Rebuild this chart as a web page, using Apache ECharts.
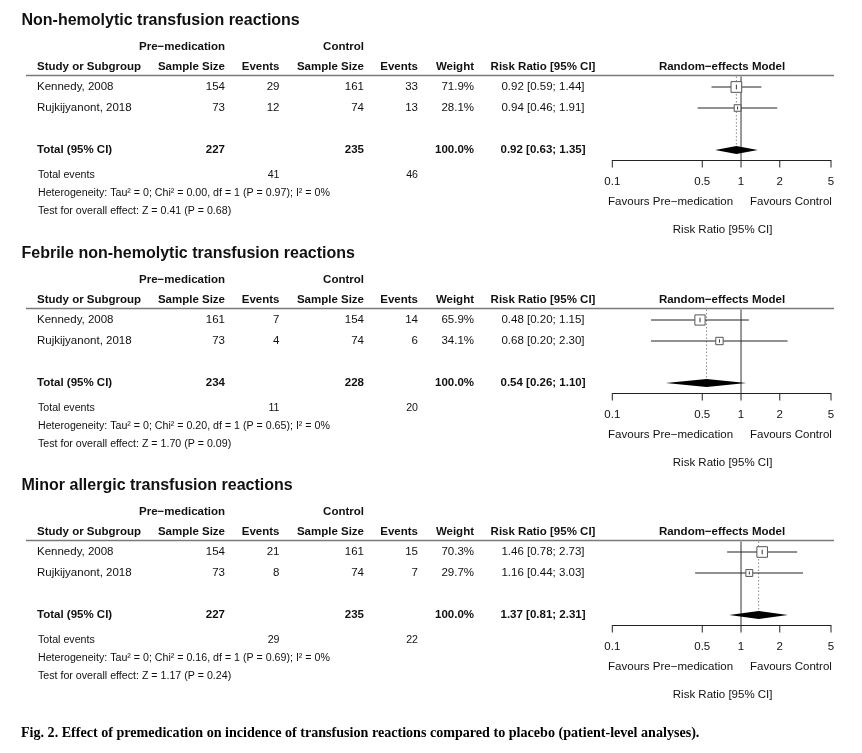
<!DOCTYPE html>
<html>
<head>
<meta charset="utf-8">
<script src="https://cdn.jsdelivr.net/npm/echarts@6/dist/echarts.min.js"></script>
<style>
html,body{margin:0;padding:0;background:#fff;}
#c{width:862px;height:753px;}
</style>
</head>
<body>
<div id="c"></div>
<script>
// ---------------- DATA ----------------
const panelTitles = [
  'Non-hemolytic transfusion reactions',
  'Febrile non-hemolytic transfusion reactions',
  'Minor allergic transfusion reactions'
];
const studies = ['Kennedy, 2008', 'Rujkijyanont, 2018'];
const preSize   = [[154, 73], [161, 73], [154, 73]];
const preEvents = [[29, 12], [7, 4], [21, 8]];
const ctlSize   = [[161, 74], [154, 74], [161, 74]];
const ctlEvents = [[33, 13], [14, 6], [15, 7]];
const weights   = [[71.9, 28.1], [65.9, 34.1], [70.3, 29.7]];
const rr        = [[0.92, 0.94], [0.48, 0.68], [1.46, 1.16]];
const rrLo      = [[0.59, 0.46], [0.20, 0.20], [0.78, 0.44]];
const rrHi      = [[1.44, 1.91], [1.15, 2.30], [2.73, 3.03]];
const totalPre  = [227, 234, 227];
const totalCtl  = [235, 228, 235];
const totalEvPre = [41, 11, 29];
const totalEvCtl = [46, 20, 22];
const pooled    = [0.92, 0.54, 1.37];
const pooledLo  = [0.63, 0.26, 0.81];
const pooledHi  = [1.35, 1.10, 2.31];
const heterogeneity = [
  'Heterogeneity: Tau² = 0; Chi² = 0.00, df = 1 (P = 0.97); I² = 0%',
  'Heterogeneity: Tau² = 0; Chi² = 0.20, df = 1 (P = 0.65); I² = 0%',
  'Heterogeneity: Tau² = 0; Chi² = 0.16, df = 1 (P = 0.69); I² = 0%'
];
const overallEffect = [
  'Test for overall effect: Z = 0.41 (P = 0.68)',
  'Test for overall effect: Z = 1.70 (P = 0.09)',
  'Test for overall effect: Z = 1.17 (P = 0.24)'
];
const tickValues = [0.1, 0.5, 1, 2, 5];
const caption = 'Fig. 2. Effect of premedication on incidence of transfusion reactions compared to placebo (patient-level analyses).';

// ---------------- LAYOUT / STYLE ----------------
const SANS = '"Liberation Sans", Arial, Helvetica, sans-serif';
const SERIF = '"Liberation Serif", "Times New Roman", serif';
const TEXT = '#111';
const PANEL_Y = [0, 233, 465];
const ROW = { title: 21, group: 47, head: 67, line: 75.5, total: 150, tev: 175, het: 193, test: 211.5 };
const STUDY_ROW_Y = [87, 108];
const COL = { study: 37, preSize: 225, preEv: 279.5, ctlSize: 364, ctlEv: 418, weight: 474, rr: 543, model: 722 };
const FS = 11.5, FS_SMALL = 10.65;
const Y_MIN = 0.5, Y_MAX = 4.5, TOTAL_ROW = 4;
const REF_VALUE = 1;
const SQUARE_SCALE = 1.26;
const DIAMOND_HALF = 4;
const GRID_LEFT = 612.3, GRID_WIDTH = 218.7, GRID_TOP = 76.5, GRID_HEIGHT = 84;

function font(size, bold) { return (bold ? 'bold ' : '') + size + 'px ' + SANS; }
function txt(x, y, text, opt) {
  opt = opt || {};
  const align = opt.align || 'left';
  return {
    type: 'text', x: x, y: y, silent: true,
    style: {
      text: text,
      font: opt.font || font(opt.size || FS, opt.bold),
      fill: opt.color || TEXT,
      align: align, textAlign: align,
      verticalAlign: 'middle', textVerticalAlign: 'middle'
    }
  };
}
function fmtRR(v, lo, hi) { return v.toFixed(2) + ' [' + lo.toFixed(2) + '; ' + hi.toFixed(2) + ']'; }

// ---------------- TABLE TEXT ----------------
const graphics = [];
for (let p = 0; p < 3; p++) {
  const o = PANEL_Y[p];
  graphics.push(txt(21.5, o + ROW.title, panelTitles[p], { size: 16, bold: true }));
  graphics.push(txt(COL.preSize, o + ROW.group, 'Pre\u2212medication', { bold: true, align: 'right' }));
  graphics.push(txt(COL.ctlSize, o + ROW.group, 'Control', { bold: true, align: 'right' }));
  const hy = o + ROW.head;
  graphics.push(txt(COL.study, hy, 'Study or Subgroup', { bold: true }));
  graphics.push(txt(COL.preSize, hy, 'Sample Size', { bold: true, align: 'right' }));
  graphics.push(txt(COL.preEv, hy, 'Events', { bold: true, align: 'right' }));
  graphics.push(txt(COL.ctlSize, hy, 'Sample Size', { bold: true, align: 'right' }));
  graphics.push(txt(COL.ctlEv, hy, 'Events', { bold: true, align: 'right' }));
  graphics.push(txt(COL.weight, hy, 'Weight', { bold: true, align: 'right' }));
  graphics.push(txt(COL.rr, hy, 'Risk Ratio [95% CI]', { bold: true, align: 'center' }));
  graphics.push(txt(COL.model, hy, 'Random\u2212effects Model', { bold: true, align: 'center' }));
  graphics.push({
    type: 'line', silent: true,
    shape: { x1: 26, y1: o + ROW.line, x2: 834, y2: o + ROW.line },
    style: { stroke: '#7a7a7a', lineWidth: 1.5 }
  });
  for (let i = 0; i < studies.length; i++) {
    const y = o + STUDY_ROW_Y[i];
    graphics.push(txt(COL.study, y, studies[i]));
    graphics.push(txt(COL.preSize, y, String(preSize[p][i]), { align: 'right' }));
    graphics.push(txt(COL.preEv, y, String(preEvents[p][i]), { align: 'right' }));
    graphics.push(txt(COL.ctlSize, y, String(ctlSize[p][i]), { align: 'right' }));
    graphics.push(txt(COL.ctlEv, y, String(ctlEvents[p][i]), { align: 'right' }));
    graphics.push(txt(COL.weight, y, weights[p][i].toFixed(1) + '%', { align: 'right' }));
    graphics.push(txt(COL.rr, y, fmtRR(rr[p][i], rrLo[p][i], rrHi[p][i]), { align: 'center' }));
  }
  const ty = o + ROW.total;
  graphics.push(txt(COL.study, ty, 'Total (95% CI)', { bold: true }));
  graphics.push(txt(COL.preSize, ty, String(totalPre[p]), { bold: true, align: 'right' }));
  graphics.push(txt(COL.ctlSize, ty, String(totalCtl[p]), { bold: true, align: 'right' }));
  graphics.push(txt(COL.weight, ty, '100.0%', { bold: true, align: 'right' }));
  graphics.push(txt(COL.rr, ty, fmtRR(pooled[p], pooledLo[p], pooledHi[p]), { bold: true, align: 'center' }));
  const ey = o + ROW.tev;
  graphics.push(txt(38, ey, 'Total events', { size: FS_SMALL }));
  graphics.push(txt(COL.preEv, ey, String(totalEvPre[p]), { size: FS_SMALL, align: 'right' }));
  graphics.push(txt(COL.ctlEv, ey, String(totalEvCtl[p]), { size: FS_SMALL, align: 'right' }));
  graphics.push(txt(38, o + ROW.het, heterogeneity[p], { size: FS_SMALL }));
  graphics.push(txt(38, o + ROW.test, overallEffect[p], { size: FS_SMALL }));
}
graphics.push(txt(21, 733, caption, { font: 'bold 14.1px ' + SERIF, color: '#000' }));

// ---------------- FOREST PLOTS ----------------
const grids = [], xAxes = [], yAxes = [], series = [];
for (let p = 0; p < 3; p++) {
  const o = PANEL_Y[p];
  grids.push({ left: GRID_LEFT, top: GRID_TOP + o, width: GRID_WIDTH, height: GRID_HEIGHT, outerBoundsMode: 'none', containLabel: false });
  xAxes.push({
    gridIndex: p, type: 'log', logBase: 10, min: tickValues[0], max: tickValues[tickValues.length - 1],
    axisLine: { show: true, onZero: false, lineStyle: { color: '#222', width: 1 } },
    axisTick: { show: false }, axisLabel: { show: false },
    splitLine: { show: false }, minorTick: { show: false }, minorSplitLine: { show: false }
  });
  yAxes.push({ gridIndex: p, type: 'value', inverse: true, min: Y_MIN, max: Y_MAX, show: false });

  // reference line at 1, dotted pooled line, pooled diamond
  series.push({
    type: 'custom', xAxisIndex: p, yAxisIndex: p, clip: false, silent: true, z: 1,
    data: [[pooled[p], pooledLo[p], pooledHi[p], TOTAL_ROW]],
    renderItem: function (params, api) {
      const row = api.value(3);
      const c = api.coord([api.value(0), row]);
      const lo = api.coord([api.value(1), row]);
      const hi = api.coord([api.value(2), row]);
      const rTop = api.coord([REF_VALUE, Y_MIN]);
      const rBot = api.coord([REF_VALUE, Y_MAX]);
      const dTop = api.coord([api.value(0), Y_MIN]);
      return {
        type: 'group', children: [
          { type: 'line', shape: { x1: rTop[0], y1: rTop[1], x2: rBot[0], y2: rBot[1] }, style: { stroke: '#333', lineWidth: 1 } },
          { type: 'line', shape: { x1: dTop[0], y1: dTop[1], x2: c[0], y2: c[1] }, style: { stroke: '#8a8a8a', lineWidth: 1, lineDash: [1.5, 2] } },
          { type: 'polygon', shape: { points: [lo, [c[0], c[1] - DIAMOND_HALF], hi, [c[0], c[1] + DIAMOND_HALF]] }, style: { fill: '#000' } }
        ]
      };
    }
  });

  const studyData = studies.map((s, i) => [rr[p][i], i + 1, weights[p][i], rrLo[p][i], rrHi[p][i]]);
  // CI lines
  series.push({
    type: 'custom', xAxisIndex: p, yAxisIndex: p, clip: false, silent: true, z: 2,
    data: studyData,
    renderItem: function (params, api) {
      const row = api.value(1);
      const lo = api.coord([api.value(3), row]);
      const hi = api.coord([api.value(4), row]);
      return { type: 'line', shape: { x1: lo[0], y1: lo[1], x2: hi[0], y2: hi[1] }, style: { stroke: '#222', lineWidth: 1 } };
    }
  });
  // squares
  series.push({
    type: 'scatter', xAxisIndex: p, yAxisIndex: p, silent: true, z: 3,
    symbol: 'rect',
    symbolSize: function (v) { return SQUARE_SCALE * Math.sqrt(v[2]); },
    itemStyle: { color: '#fff', borderColor: '#555', borderWidth: 1, opacity: 1 },
    data: studyData
  });
  // point estimate tick inside square
  series.push({
    type: 'custom', xAxisIndex: p, yAxisIndex: p, clip: false, silent: true, z: 4,
    data: studyData,
    renderItem: function (params, api) {
      const c = api.coord([api.value(0), api.value(1)]);
      const h = SQUARE_SCALE * Math.sqrt(api.value(2)) * 0.22;
      return { type: 'line', shape: { x1: c[0], y1: c[1] - h, x2: c[0], y2: c[1] + h }, style: { stroke: '#333', lineWidth: 1 } };
    }
  });
  // axis ticks and labels
  series.push({
    type: 'custom', xAxisIndex: p, yAxisIndex: p, clip: false, silent: true, z: 5,
    data: tickValues.map(v => [v, Y_MAX]),
    renderItem: function (params, api) {
      const v = api.value(0);
      const c = api.coord([v, api.value(1)]);
      return {
        type: 'group', children: [
          { type: 'line', shape: { x1: c[0], y1: c[1], x2: c[0], y2: c[1] + 7 }, style: { stroke: '#222', lineWidth: 1 } },
          { type: 'text', x: c[0], y: c[1] + 21.5, style: { text: String(v), font: font(FS, false), fill: TEXT, align: 'center', textAlign: 'center', verticalAlign: 'middle', textVerticalAlign: 'middle' } }
        ]
      };
    }
  });
  // favours labels and axis title
  series.push({
    type: 'custom', xAxisIndex: p, yAxisIndex: p, clip: false, silent: true, z: 5,
    data: [[REF_VALUE, Y_MAX]],
    renderItem: function (params, api) {
      const c = api.coord([api.value(0), api.value(1)]);
      const a = api.coord([tickValues[0], Y_MAX]);
      const b = api.coord([tickValues[tickValues.length - 1], Y_MAX]);
      const st = (t, al) => ({ text: t, font: font(FS, false), fill: TEXT, align: al, textAlign: al, verticalAlign: 'middle', textVerticalAlign: 'middle' });
      return {
        type: 'group', children: [
          { type: 'text', x: c[0] - 8, y: c[1] + 41.5, style: st('Favours Pre\u2212medication', 'right') },
          { type: 'text', x: c[0] + 9, y: c[1] + 41.5, style: st('Favours Control', 'left') },
          { type: 'text', x: (a[0] + b[0]) / 2 + 1, y: c[1] + 69.5, style: st('Risk Ratio [95% CI]', 'center') }
        ]
      };
    }
  });
}

const chart = echarts.init(document.getElementById('c'), null, { renderer: 'canvas' });
chart.setOption({
  animation: false,
  backgroundColor: '#fff',
  grid: grids,
  xAxis: xAxes,
  yAxis: yAxes,
  series: series,
  graphic: { elements: graphics }
});
</script>
</body>
</html>
